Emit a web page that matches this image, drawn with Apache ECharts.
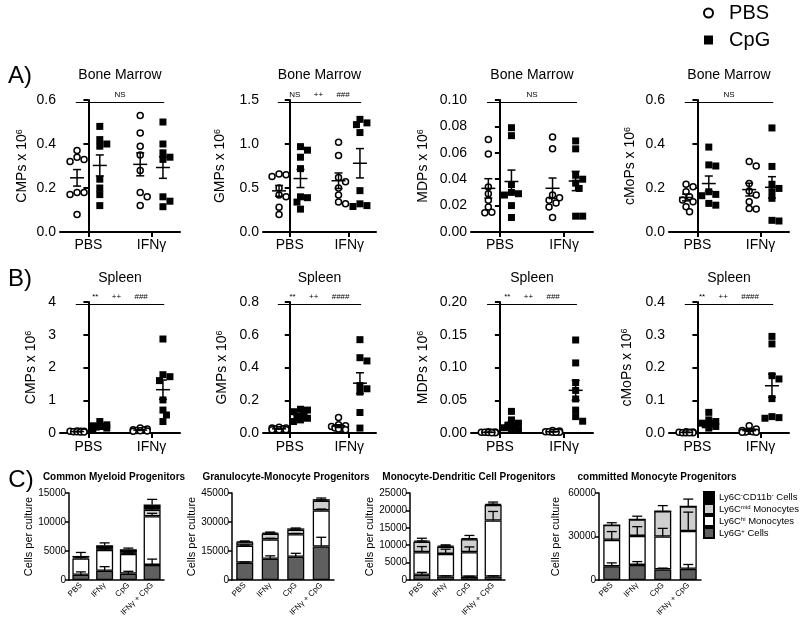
<!DOCTYPE html>
<html><head><meta charset="utf-8">
<script src="https://cdn.jsdelivr.net/npm/echarts@6/dist/echarts.min.js"></script>
<style>html,body{margin:0;padding:0;background:#fff}#c{width:800px;height:619px}</style>
</head><body><div id="c"></div>
<script>
const FF = '"Liberation Sans", Arial, Helvetica, sans-serif';
// ---------- DATA ----------
const GROUPS = ['PBS', 'IFNγ'];
const TREATMENTS = ['PBS', 'CpG'];
const CELL_NAMES = ['CMPs', 'GMPs', 'MDPs', 'cMoPs'];

// A) Bone marrow (x10^6)
const bmCMP_PBS_pbs = [0.37, 0.34, 0.33, 0.32, 0.18, 0.18, 0.17, 0.08];
const bmCMP_PBS_cpg = [0.48, 0.42, 0.40, 0.39, 0.24, 0.20, 0.17, 0.12];
const bmCMP_IFN_pbs = [0.53, 0.45, 0.39, 0.35, 0.28, 0.18, 0.16, 0.12];
const bmCMP_IFN_cpg = [0.50, 0.40, 0.36, 0.34, 0.33, 0.16, 0.14, 0.115];

const bmGMP_PBS_pbs = [0.66, 0.65, 0.63, 0.50, 0.42, 0.40, 0.28, 0.20];
const bmGMP_PBS_cpg = [0.97, 0.93, 0.85, 0.72, 0.40, 0.39, 0.34, 0.26];
const bmGMP_IFN_pbs = [1.02, 0.87, 0.62, 0.57, 0.50, 0.42, 0.34, 0.32];
const bmGMP_IFN_cpg = [1.28, 1.24, 1.22, 1.13, 0.47, 0.32, 0.30, 0.29];

const bmMDP_PBS_pbs = [0.070, 0.059, 0.034, 0.029, 0.024, 0.019, 0.015, 0.0145];
const bmMDP_PBS_cpg = [0.079, 0.073, 0.036, 0.030, 0.029, 0.028, 0.020, 0.011];
const bmMDP_IFN_pbs = [0.072, 0.063, 0.028, 0.026, 0.024, 0.022, 0.019, 0.011];
const bmMDP_IFN_cpg = [0.069, 0.063, 0.043, 0.040, 0.037, 0.033, 0.012, 0.012];

const bmMoP_PBS_pbs = [0.217, 0.206, 0.183, 0.160, 0.145, 0.137, 0.115, 0.092];
const bmMoP_PBS_cpg = [0.386, 0.305, 0.300, 0.183, 0.171, 0.165, 0.130, 0.122];
const bmMoP_IFN_pbs = [0.320, 0.300, 0.220, 0.186, 0.168, 0.137, 0.107, 0.104];
const bmMoP_IFN_cpg = [0.473, 0.298, 0.217, 0.198, 0.183, 0.153, 0.053, 0.050];

// B) Spleen (x10^6)
const spCMP_PBS_pbs = [0.06, 0.05, 0.05, 0.05, 0.04, 0.04, 0.03, 0.03];
const spCMP_PBS_cpg = [0.35, 0.25, 0.22, 0.20, 0.20, 0.18, 0.15, 0.12];
const spCMP_IFN_pbs = [0.15, 0.12, 0.10, 0.09, 0.08, 0.07, 0.06, 0.05];
const spCMP_IFN_cpg = [2.87, 1.78, 1.72, 1.60, 1.01, 0.70, 0.55, 0.35];

const spGMP_PBS_pbs = [0.035, 0.03, 0.03, 0.025, 0.025, 0.02, 0.02, 0.02];
const spGMP_PBS_cpg = [0.145, 0.14, 0.13, 0.12, 0.10, 0.09, 0.08, 0.07];
const spGMP_IFN_pbs = [0.095, 0.05, 0.045, 0.04, 0.03, 0.03, 0.025, 0.02];
const spGMP_IFN_cpg = [0.57, 0.46, 0.44, 0.29, 0.27, 0.25, 0.125, 0.03];

const spMDP_PBS_pbs = [0.002, 0.0015, 0.001, 0.001, 0.001, 0.0008, 0.0005, 0.0005];
const spMDP_PBS_cpg = [0.033, 0.020, 0.015, 0.012, 0.010, 0.008, 0.006, 0.005];
const spMDP_IFN_pbs = [0.004, 0.003, 0.002, 0.002, 0.002, 0.001, 0.001, 0.001];
const spMDP_IFN_cpg = [0.142, 0.107, 0.077, 0.065, 0.052, 0.035, 0.025, 0.018];

const spMoP_PBS_pbs = [0.004, 0.003, 0.002, 0.002, 0.001, 0.001, 0.001, 0.001];
const spMoP_PBS_cpg = [0.063, 0.040, 0.035, 0.030, 0.028, 0.025, 0.020, 0.015];
const spMoP_IFN_pbs = [0.022, 0.012, 0.008, 0.005, 0.004, 0.003, 0.002, 0.002];
const spMoP_IFN_cpg = [0.295, 0.272, 0.175, 0.165, 0.105, 0.050, 0.047, 0.045];

// y-axis ticks
const A_YMAX = [0.6, 1.5, 0.10, 0.6];
const A_YSTEP = [0.2, 0.5, 0.02, 0.2];
const A_YDEC = [1, 1, 2, 1];
const B_YMAX = [4, 0.8, 0.20, 0.4];
const B_YSTEP = [1, 0.2, 0.05, 0.1];
const B_YDEC = [0, 1, 2, 1];
const A_SIG = ['NS', 'NS      ++      ###', 'NS', 'NS'];
const B_SIG = ['**      ++      ###', '**      ++      ####', '**      ++      ###', '**      ++      ####'];

// C) cultures: cells per culture, stacked layers (bottom -> top) + SEM
const C_CATS = ['PBS', 'IFNγ', 'CpG', 'IFNγ + CpG'];
const C_LAYERS = ['Ly6G+ Cells', 'Ly6Chi Monocytes', 'Ly6Cmid Monocytes', 'Ly6C-CD11b- Cells'];
const C_TITLES = ['Common Myeloid Progenitors', 'Granulocyte-Monocyte Progenitors', 'Monocyte-Dendritic Cell Progenitors', 'committed Monocyte Progenitors'];

const cmp_ly6g = [900, 1600, 1100, 2600];     const cmp_ly6g_err = [500, 700, 400, 1000];
const cmp_hi   = [2800, 3600, 3400, 8400];    const cmp_hi_err   = [200, 200, 150, 500];
const cmp_mid  = [200, 300, 300, 1100];       const cmp_mid_err  = [100, 100, 100, 300];
const cmp_neg  = [250, 500, 500, 900];        const cmp_neg_err  = [600, 400, 200, 900];

const gmp_ly6g = [9000, 11000, 12000, 17300]; const gmp_ly6g_err = [300, 1500, 1800, 4800];
const gmp_hi   = [8800, 10000, 11700, 18700]; const gmp_hi_err   = [300, 600, 400, 700];
const gmp_mid  = [1700, 3000, 2300, 5000];    const gmp_mid_err  = [200, 300, 300, 400];
const gmp_neg  = [500, 500, 700, 800];        const gmp_neg_err  = [200, 300, 200, 600];

const mdp_ly6g = [1500, 1000, 900, 1000];     const mdp_ly6g_err = [700, 200, 200, 200];
const mdp_hi   = [6500, 6500, 7100, 16100];   const mdp_hi_err   = [1600, 1350, 1500, 2600];
const mdp_mid  = [3000, 2100, 3700, 4500];    const mdp_mid_err  = [200, 200, 200, 200];
const mdp_neg  = [300, 300, 300, 300];        const mdp_neg_err  = [700, 200, 800, 500];

const cmop_ly6g = [9500, 10400, 7300, 7700];    const cmop_ly6g_err = [2300, 2300, 900, 3000];
const cmop_hi   = [18200, 20000, 22700, 26100]; const cmop_hi_err   = [5700, 6400, 5600, 13000];
const cmop_mid  = [10200, 11400, 17400, 17000]; const cmop_mid_err  = [1600, 2200, 3900, 5000];
const cmop_neg  = [0, 0, 0, 0];                 const cmop_neg_err  = [0, 0, 0, 0];

const C_YMAX = [15000, 45000, 25000, 60000];
const C_YSTEP = [5000, 15000, 5000, 30000];

// ---------- LAYOUT / STYLE ----------
const DOT_LEFT = [60, 263, 471, 669];
const DOT_WIDTH = [120, 113, 122, 120];
const DOT_TOP = [100, 302];
const DOT_HEIGHT = [132, 131];
const DOT_NAMEGAP = [[31, 36, 41, 32], [22, 34, 41, 35]];
const X_MIN = -0.45, X_MAX = 1.45, GROUP_OFF = 0.18;
const C_LEFT = [69, 232, 410, 599];
const C_WIDTH = [95, 102, 95, 102];
const C_TOP = 493, C_HEIGHT = 87;
const C_NAMEGAP = [33, 34, 34, 38];
const C_TITLE_X = [114, 286, 469, 657];
const C_COLORS = ['#5f5f5f', '#ffffff', '#cfcfcf', '#000000'];
const C_LEGEND_RICH = {
  'Ly6C-CD11b- Cells': 'Ly6C{s|-}CD11b{s|-} Cells',
  'Ly6Cmid Monocytes': 'Ly6C{s|mid} Monocytes',
  'Ly6Chi Monocytes': 'Ly6C{s|hi} Monocytes',
  'Ly6G+ Cells': 'Ly6G{s|+} Cells'
};

const grids = [], xAxes = [], yAxes = [], series = [], graphics = [];

function swarm(values, center, unitPx, yPx) {
  const order = values.map((v, i) => i).sort((a, b) => values[b] - values[a]);
  const placed = [], xs = new Array(values.length);
  const cands = [0, 3.5, -3.5, 7, -7];
  order.forEach(i => {
    const yp = values[i] * yPx;
    let best = 0, bestD = -1;
    for (const c of cands) {
      let dmin = Infinity;
      for (const p of placed) { const d = Math.hypot(p[0] - c, p[1] - yp); if (d < dmin) dmin = d; }
      if (dmin >= 6) { best = c; break; }
      if (dmin > bestD) { bestD = dmin; best = c; }
    }
    placed.push([best, yp]);
    xs[i] = center + best / unitPx;
  });
  return xs;
}
function mean(a) { return a.reduce((s, v) => s + v, 0) / a.length; }
function sem(a) { const m = mean(a); const v = a.reduce((s, x) => s + (x - m) * (x - m), 0) / (a.length - 1); return Math.sqrt(v / a.length); }

function meanSemRender(params, api) {
  const x = api.value(0), m = api.value(1), s = api.value(2);
  const c = api.coord([x, m]), t = api.coord([x, m + s]), b = api.coord([x, Math.max(0, m - s)]);
  const st = { stroke: '#000', lineWidth: 1.5 };
  return { type: 'group', children: [
    { type: 'line', shape: { x1: c[0] - 7, y1: c[1], x2: c[0] + 7, y2: c[1] }, style: st },
    { type: 'line', shape: { x1: c[0], y1: t[1], x2: c[0], y2: b[1] }, style: st },
    { type: 'line', shape: { x1: c[0] - 4, y1: t[1], x2: c[0] + 4, y2: t[1] }, style: st },
    { type: 'line', shape: { x1: c[0] - 4, y1: b[1], x2: c[0] + 4, y2: b[1] }, style: st }
  ] };
}

function addDotPanel(row, col, groupsData, ymax, ystep, ydec, yname, sig) {
  const gi = grids.length;
  const left = DOT_LEFT[col], width = DOT_WIDTH[col], top = DOT_TOP[row], height = DOT_HEIGHT[row];
  grids.push({ left, top, width, height });
  xAxes.push({ gridIndex: gi, type: 'value', min: X_MIN, max: X_MAX,
    axisLine: { show: true, onZero: false, lineStyle: { color: '#000', width: 2 } },
    axisTick: { show: true, customValues: [0, 1], length: 5, lineStyle: { color: '#000', width: 2 } },
    axisLabel: { show: true, customValues: [0, 1], formatter: v => GROUPS[Math.round(v)], fontSize: 14, color: '#000', margin: row ? 7 : 6, fontFamily: FF },
    splitLine: { show: false } });
  yAxes.push({ gridIndex: gi, type: 'value', min: 0, max: ymax, interval: ystep,
    axisLine: { show: true, lineStyle: { color: '#000', width: 2 } },
    axisTick: { show: true, length: 5, lineStyle: { color: '#000', width: 2 } },
    axisLabel: { fontSize: 14, color: '#000', margin: 4, fontFamily: FF, formatter: v => v.toFixed(ydec) },
    splitLine: { show: false },
    name: '{n|' + yname + ' x 10}{s|6}', nameLocation: 'middle', nameRotate: 90, nameGap: DOT_NAMEGAP[row][col],
    nameTextStyle: { rich: { n: { fontSize: 14, fontFamily: FF, color: '#000' }, s: { fontSize: 9, fontFamily: FF, color: '#000', verticalAlign: 'top', lineHeight: 9 } } } });
  const unitPx = width / (X_MAX - X_MIN), yPx = height / ymax;
  const ms = [];
  TREATMENTS.forEach((tr, t) => {
    const pts = [];
    groupsData.forEach((gd, g) => {
      const vals = gd[t];
      const center = g + (t === 0 ? -GROUP_OFF : GROUP_OFF);
      const xs = swarm(vals, center, unitPx, yPx);
      vals.forEach((v, i) => pts.push([xs[i], v]));
      ms.push([center, mean(vals), sem(vals)]);
    });
    const s = { type: 'scatter', name: tr, xAxisIndex: gi, yAxisIndex: gi, data: pts, z: 2, silent: true,
      symbol: t === 0 ? 'circle' : 'rect', symbolSize: t === 0 ? 6 : 7,
      itemStyle: t === 0 ? { color: '#fff', borderColor: '#000', borderWidth: 1.5, opacity: 1 } : { color: '#000', borderColor: '#000', borderWidth: 0, opacity: 1 } };
    if (t === 0) {
      s.markLine = { silent: true, symbol: 'none', animation: false,
        lineStyle: { color: '#000', width: 1, type: 'solid' },
        label: { show: true, position: 'insideMiddleTop', formatter: sig, fontSize: 8, color: '#000', fontFamily: FF, distance: 3 },
        data: [[{ coord: [-0.2, ymax * 0.985] }, { coord: [1.2, ymax * 0.985] }]] };
    }
    series.push(s);
  });
  series.push({ type: 'custom', name: 'meanSEM', xAxisIndex: gi, yAxisIndex: gi, z: 4, silent: true, data: ms, renderItem: meanSemRender });
}

function addBarPanel(k, layers, errs, ymax, ystep) {
  const gi = grids.length;
  grids.push({ left: C_LEFT[k], top: C_TOP, width: C_WIDTH[k], height: C_HEIGHT });
  xAxes.push({ gridIndex: gi, type: 'category', data: C_CATS,
    axisLine: { show: true, lineStyle: { color: '#000', width: 1.5 } }, axisTick: { show: false },
    axisLabel: { rotate: 45, fontSize: 8, color: '#000', margin: 4, interval: 0, fontFamily: FF } });
  yAxes.push({ gridIndex: gi, type: 'value', min: 0, max: ymax, interval: ystep,
    axisLine: { show: true, lineStyle: { color: '#000', width: 1.5 } },
    axisTick: { show: true, length: 4, lineStyle: { color: '#000', width: 1.5 } },
    axisLabel: { fontSize: 10, color: '#000', margin: 3, fontFamily: FF, formatter: v => String(Math.round(v)) },
    splitLine: { show: false },
    name: 'Cells per culture', nameLocation: 'middle', nameGap: C_NAMEGAP[k],
    nameTextStyle: { fontSize: 11, color: '#000', fontFamily: FF } });
  layers.forEach((arr, li) => series.push({ type: 'bar', name: C_LAYERS[li], stack: 'st' + gi, xAxisIndex: gi, yAxisIndex: gi,
    data: arr, barWidth: 17, silent: true, z: 2,
    itemStyle: { color: C_COLORS[li], borderColor: '#000', borderWidth: 1.3 } }));
  const ed = [];
  C_CATS.forEach((c, j) => {
    let cum = 0;
    layers.forEach((arr, li) => { cum += arr[j]; ed.push([j, cum, errs[li][j]]); });
  });
  series.push({ type: 'custom', name: 'err', xAxisIndex: gi, yAxisIndex: gi, z: 4, silent: true, data: ed,
    renderItem: (params, api) => {
      const j = api.value(0), top = api.value(1), e = api.value(2);
      if (!e) return null;
      const p0 = api.coord([j, top]), p1 = api.coord([j, top + e]);
      const st = { stroke: '#000', lineWidth: 1.3 };
      return { type: 'group', children: [
        { type: 'line', shape: { x1: p0[0], y1: p0[1], x2: p1[0], y2: p1[1] }, style: st },
        { type: 'line', shape: { x1: p1[0] - 5, y1: p1[1], x2: p1[0] + 5, y2: p1[1] }, style: st }
      ] };
    } });
}

const A_DATA = [
  [[bmCMP_PBS_pbs, bmCMP_PBS_cpg], [bmCMP_IFN_pbs, bmCMP_IFN_cpg]],
  [[bmGMP_PBS_pbs, bmGMP_PBS_cpg], [bmGMP_IFN_pbs, bmGMP_IFN_cpg]],
  [[bmMDP_PBS_pbs, bmMDP_PBS_cpg], [bmMDP_IFN_pbs, bmMDP_IFN_cpg]],
  [[bmMoP_PBS_pbs, bmMoP_PBS_cpg], [bmMoP_IFN_pbs, bmMoP_IFN_cpg]]
];
const B_DATA = [
  [[spCMP_PBS_pbs, spCMP_PBS_cpg], [spCMP_IFN_pbs, spCMP_IFN_cpg]],
  [[spGMP_PBS_pbs, spGMP_PBS_cpg], [spGMP_IFN_pbs, spGMP_IFN_cpg]],
  [[spMDP_PBS_pbs, spMDP_PBS_cpg], [spMDP_IFN_pbs, spMDP_IFN_cpg]],
  [[spMoP_PBS_pbs, spMoP_PBS_cpg], [spMoP_IFN_pbs, spMoP_IFN_cpg]]
];
for (let c = 0; c < 4; c++) addDotPanel(0, c, A_DATA[c], A_YMAX[c], A_YSTEP[c], A_YDEC[c], CELL_NAMES[c], A_SIG[c]);
for (let c = 0; c < 4; c++) addDotPanel(1, c, B_DATA[c], B_YMAX[c], B_YSTEP[c], B_YDEC[c], CELL_NAMES[c], B_SIG[c]);

const C_DATA = [
  [[cmp_ly6g, cmp_hi, cmp_mid, cmp_neg], [cmp_ly6g_err, cmp_hi_err, cmp_mid_err, cmp_neg_err]],
  [[gmp_ly6g, gmp_hi, gmp_mid, gmp_neg], [gmp_ly6g_err, gmp_hi_err, gmp_mid_err, gmp_neg_err]],
  [[mdp_ly6g, mdp_hi, mdp_mid, mdp_neg], [mdp_ly6g_err, mdp_hi_err, mdp_mid_err, mdp_neg_err]],
  [[cmop_ly6g, cmop_hi, cmop_mid, cmop_neg], [cmop_ly6g_err, cmop_hi_err, cmop_mid_err, cmop_neg_err]]
];
for (let k = 0; k < 4; k++) addBarPanel(k, C_DATA[k][0], C_DATA[k][1], C_YMAX[k], C_YSTEP[k]);

// titles and panel letters
function txt(text, x, y, size, weight) {
  graphics.push({ type: 'text', x, y, silent: true,
    style: { text, fontSize: size, fontWeight: weight || 'normal', fontFamily: FF, fill: '#000', align: 'center', verticalAlign: 'middle' } });
}
for (let c = 0; c < 4; c++) {
  txt('Bone Marrow', DOT_LEFT[c] + DOT_WIDTH[c] / 2, 75, 14);
  txt('Spleen', DOT_LEFT[c] + DOT_WIDTH[c] / 2, 278, 14);
  txt(C_TITLES[c], C_TITLE_X[c], 477, 10, 'bold');
}
txt('A)', 20, 76, 24); txt('B)', 20, 279, 24); txt('C)', 21, 480, 24);

const option = {
  animation: false,
  backgroundColor: '#fff',
  textStyle: { fontFamily: FF, color: '#000' },
  grid: grids, xAxis: xAxes, yAxis: yAxes, series,
  legend: [
    { data: ['PBS', 'CpG'], orient: 'vertical', left: 703, top: 3, padding: 0, itemWidth: 9, itemHeight: 9, itemGap: 7,
      selectedMode: false, textStyle: { fontSize: 20, color: '#000', fontFamily: FF }, formatter: n => '  ' + n },
    { data: ['Ly6C-CD11b- Cells', 'Ly6Cmid Monocytes', 'Ly6Chi Monocytes', 'Ly6G+ Cells'], orient: 'vertical',
      left: 703, top: 491, padding: 0, itemWidth: 10, itemHeight: 10, itemGap: 0, selectedMode: false, icon: 'rect',
      textStyle: { fontSize: 9.5, color: '#000', fontFamily: FF,
        rich: { s: { fontSize: 6, fontFamily: FF, color: '#000', verticalAlign: 'top', lineHeight: 6 } } },
      formatter: n => C_LEGEND_RICH[n] }
  ],
  graphic: graphics
};
const chart = echarts.init(document.getElementById('c'), null, { renderer: 'canvas' });
chart.setOption(option);
</script></body></html>
